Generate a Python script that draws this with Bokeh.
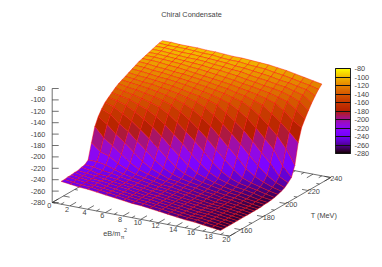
import math
from bokeh.plotting import figure
from bokeh.models import Range1d, ColorBar, LinearColorMapper, FixedTicker, AllLabels, PrintfTickFormatter
from bokeh.core.properties import value
from bokeh.embed import file_html
from bokeh.resources import INLINE

TITLE = "Chiral Condensate"
Z_TICKS = [-80, -100, -120, -140, -160, -180, -200, -220, -240, -260, -280]
EB_TICKS = [0, 2, 4, 6, 8, 10, 12, 14, 16, 18, 20]
T_TICKS = [160, 180, 200, 220, 240]
T_VALUES = [150, 153, 156, 159, 162, 165, 168, 171, 174, 177, 180, 183, 186, 189, 192, 195,
            198, 201, 204, 207, 210, 213, 216, 219, 222, 225, 228, 231, 234, 237, 240]
EB_VALUES = list(range(1, 20))

# condensate at each T above, one list per eB value
eb01 = [-240,-240,-239,-239,-238,-238,-236,-235,-230,-203,-178,-164,-154,-146,-141,-136,-131,-127,-124,-121,-118,-115,-112,-109,-107,-105,-103,-101,-99,-97,-96]
eb02 = [-242,-242,-241,-241,-241,-240,-238,-236,-230,-216,-195,-175,-161,-151,-144,-139,-134,-130,-126,-123,-120,-116,-113,-110,-107,-105,-103,-101,-99,-98,-96]
eb03 = [-244,-244,-243,-243,-243,-242,-242,-239,-233,-221,-206,-189,-174,-160,-149,-142,-137,-132,-128,-125,-121,-118,-115,-112,-108,-106,-104,-102,-100,-98,-97]
eb04 = [-245,-245,-245,-244,-244,-244,-243,-241,-238,-231,-218,-201,-185,-170,-157,-148,-141,-135,-130,-126,-123,-120,-116,-113,-110,-107,-105,-103,-101,-98,-97]
eb05 = [-247,-247,-247,-247,-246,-246,-245,-244,-243,-238,-230,-215,-199,-182,-167,-154,-145,-138,-133,-129,-125,-121,-118,-115,-111,-108,-106,-104,-101,-99,-97]
eb06 = [-249,-249,-249,-249,-248,-248,-248,-247,-246,-244,-239,-228,-212,-195,-178,-163,-150,-142,-136,-131,-127,-123,-120,-116,-113,-110,-107,-104,-102,-100,-98]
eb07 = [-251,-251,-251,-251,-250,-250,-250,-249,-248,-247,-244,-238,-226,-209,-191,-174,-159,-147,-140,-134,-130,-125,-122,-118,-115,-111,-108,-105,-103,-100,-98]
eb08 = [-253,-253,-253,-253,-253,-252,-252,-252,-251,-250,-248,-244,-237,-223,-206,-188,-171,-156,-145,-138,-133,-128,-124,-120,-117,-113,-110,-107,-104,-102,-99]
eb09 = [-255,-255,-255,-255,-255,-255,-254,-254,-253,-253,-251,-250,-245,-236,-220,-202,-184,-167,-152,-142,-136,-131,-126,-122,-119,-115,-111,-108,-105,-103,-100]
eb10 = [-256,-256,-256,-256,-256,-256,-256,-255,-255,-254,-253,-252,-250,-245,-234,-217,-198,-180,-163,-149,-140,-134,-129,-125,-121,-117,-113,-110,-107,-103,-100]
eb11 = [-258,-258,-258,-258,-258,-258,-258,-258,-257,-257,-256,-255,-253,-250,-244,-231,-213,-194,-175,-159,-145,-138,-132,-127,-123,-119,-115,-111,-108,-105,-101]
eb12 = [-260,-260,-260,-260,-260,-260,-260,-260,-259,-259,-258,-257,-256,-254,-250,-243,-229,-210,-190,-172,-156,-143,-136,-131,-126,-122,-118,-114,-110,-106,-102]
eb13 = [-262,-262,-262,-262,-262,-262,-262,-262,-262,-261,-261,-260,-259,-257,-255,-251,-242,-225,-206,-186,-168,-152,-140,-134,-129,-124,-120,-116,-112,-107,-103]
eb14 = [-264,-264,-264,-264,-264,-264,-264,-264,-264,-263,-263,-262,-262,-260,-259,-256,-251,-239,-221,-201,-181,-163,-148,-139,-132,-127,-123,-118,-114,-110,-105]
eb15 = [-266,-266,-266,-266,-266,-266,-266,-266,-266,-266,-265,-265,-264,-263,-262,-260,-257,-251,-238,-218,-197,-177,-159,-144,-136,-130,-125,-121,-117,-112,-107]
eb16 = [-267,-267,-267,-267,-267,-267,-267,-267,-267,-267,-267,-266,-266,-265,-264,-262,-260,-257,-249,-234,-214,-193,-173,-156,-141,-134,-128,-123,-119,-115,-110]
eb17 = [-269,-269,-269,-269,-269,-269,-269,-269,-269,-269,-269,-269,-268,-268,-267,-265,-263,-261,-256,-247,-230,-209,-188,-168,-151,-139,-133,-127,-122,-118,-113]
eb18 = [-271,-271,-271,-271,-271,-271,-271,-271,-271,-271,-271,-271,-271,-270,-270,-269,-267,-265,-262,-257,-250,-235,-208,-182,-165,-150,-139,-131,-125,-121,-116]
eb19 = [-273,-273,-273,-273,-273,-273,-273,-273,-273,-273,-273,-273,-273,-272,-272,-271,-270,-268,-266,-263,-258,-252,-234,-198,-175,-163,-152,-142,-133,-125,-119]
COLUMNS = [eb01, eb02, eb03, eb04, eb05, eb06, eb07, eb08, eb09, eb10, eb11, eb12, eb13, eb14, eb15, eb16, eb17, eb18, eb19]
assert all(len(c) == len(T_VALUES) for c in COLUMNS)

ZMIN, ZMAX = -280, -80

def project(e, t, z):
    x = 51.7 + 8.86 * e + 1.126 * (t - 150)
    y = 202 + 1.685 * e - 0.652 * (t - 150) - 0.57 * (z - ZMIN)
    return x, y

def hexc(r, g, b):
    return "#%02x%02x%02x" % (round(r * 255), round(g * 255), round(b * 255))

def gp(x):
    return hexc(math.sqrt(x), x ** 3, max(0.0, math.sin(2 * math.pi * x)))

PALETTE = [gp(i / 255) for i in range(256)]

def color(z):
    x = (z - ZMIN) / (ZMAX - ZMIN)
    return PALETTE[max(0, min(255, round(x * 255)))]

p = figure(width=374, height=259, output_backend="svg", toolbar_location=None,
           x_range=Range1d(0, 374), y_range=Range1d(259, 0),
           x_axis_location=None, y_axis_location=None, min_border=0,
           outline_line_color=None, background_fill_color="white")
p.xgrid.visible = False
p.ygrid.visible = False

AX = "#333333"
FONT = value("Liberation Sans")
FS = value("7.3px")
TXT = "#444444"

E0, E1, T0, T1 = 0, 20, 150, 240
lines_x, lines_y = [], []
def seg(a, b):
    lines_x.append([a[0], b[0]])
    lines_y.append([a[1], b[1]])

seg(project(E0, T0, ZMIN), project(E1, T0, ZMIN))
seg(project(E1, T0, ZMIN), project(E1, T1, ZMIN))
seg(project(E1, T1, ZMIN), project(E0, T1, ZMIN))
seg(project(E0, T1, ZMIN), project(E0, T0, ZMIN))
seg(project(E0, T0, ZMIN), project(E0, T0, ZMAX))
for z in Z_TICKS:
    a = project(E0, T0, z)
    seg(a, (a[0] + 6.5, a[1]))
for e in range(E0, E1 + 1):
    dt = 5.5 if e % 2 == 0 else 2.8
    seg(project(e, T0, ZMIN), project(e, T0 + dt, ZMIN))
    seg(project(e, T1, ZMIN), project(e, T1 - dt, ZMIN))
for t in range(T0, T1 + 1, 10):
    de = 0.7 if t % 20 == 0 else 0.35
    seg(project(E1, t, ZMIN), project(E1 - de, t, ZMIN))
    seg(project(E0, t, ZMIN), project(E0 + de, t, ZMIN))
p.multi_line(lines_x, lines_y, line_color=AX, line_width=0.7)

xs, ys, fills = [], [], []
for it in range(len(T_VALUES) - 2, -1, -1):
    for ie in range(len(EB_VALUES) - 1):
        corners = [(ie, it), (ie + 1, it), (ie + 1, it + 1), (ie, it + 1)]
        pts = [project(EB_VALUES[a], T_VALUES[b], COLUMNS[a][b]) for a, b in corners]
        xs.append([q[0] for q in pts])
        ys.append([q[1] for q in pts])
        fills.append(color(sum(COLUMNS[a][b] for a, b in corners) / 4))
p.patches(xs, ys, fill_color=fills, line_color="#ff0000", line_width=0.6, line_alpha=0.7)

def label(x, y, s, align="center", size=FS):
    p.text([x], [y], text=[s], text_font=FONT, text_font_size=size, text_color=TXT,
           text_align=align, text_baseline="middle")

label(191, 14, TITLE)
for z in Z_TICKS:
    a = project(E0, T0, z)
    label(44.8, a[1], str(z), "right")
for e in EB_TICKS:
    a = project(e, T0, ZMIN)
    label(a[0] - 3, a[1] + 3.2, str(e))
for t in T_TICKS:
    a = project(E1, t, ZMIN)
    label(a[0] - 0.5, a[1] + 1, str(t), "left")
label(323.3, 215, "T (MeV)")
label(102.7, 233, "eB/m", "left")
label(120.2, 236.8, "\u03c0", "left", value("5.5px"))
label(123.5, 229, "2", "left", value("5.5px"))

mapper = LinearColorMapper(palette=PALETTE, low=ZMIN, high=ZMAX)
bar = ColorBar(color_mapper=mapper, ticker=FixedTicker(ticks=Z_TICKS), location=(335, 106),
               width=15, height=85, padding=0, margin=0, bar_line_color="#222222",
               major_tick_line_color="#111111", major_tick_in=15, major_tick_out=0,
               minor_tick_line_color=None, major_label_text_font="Liberation Sans",
               major_label_text_font_size="7.3px", major_label_text_color=TXT,
               major_label_policy=AllLabels(), formatter=PrintfTickFormatter(format="%d"),
               label_standoff=4, border_line_color=None, background_fill_color=None)
p.add_layout(bar)

open("out.html", "w").write(file_html(p, INLINE))
